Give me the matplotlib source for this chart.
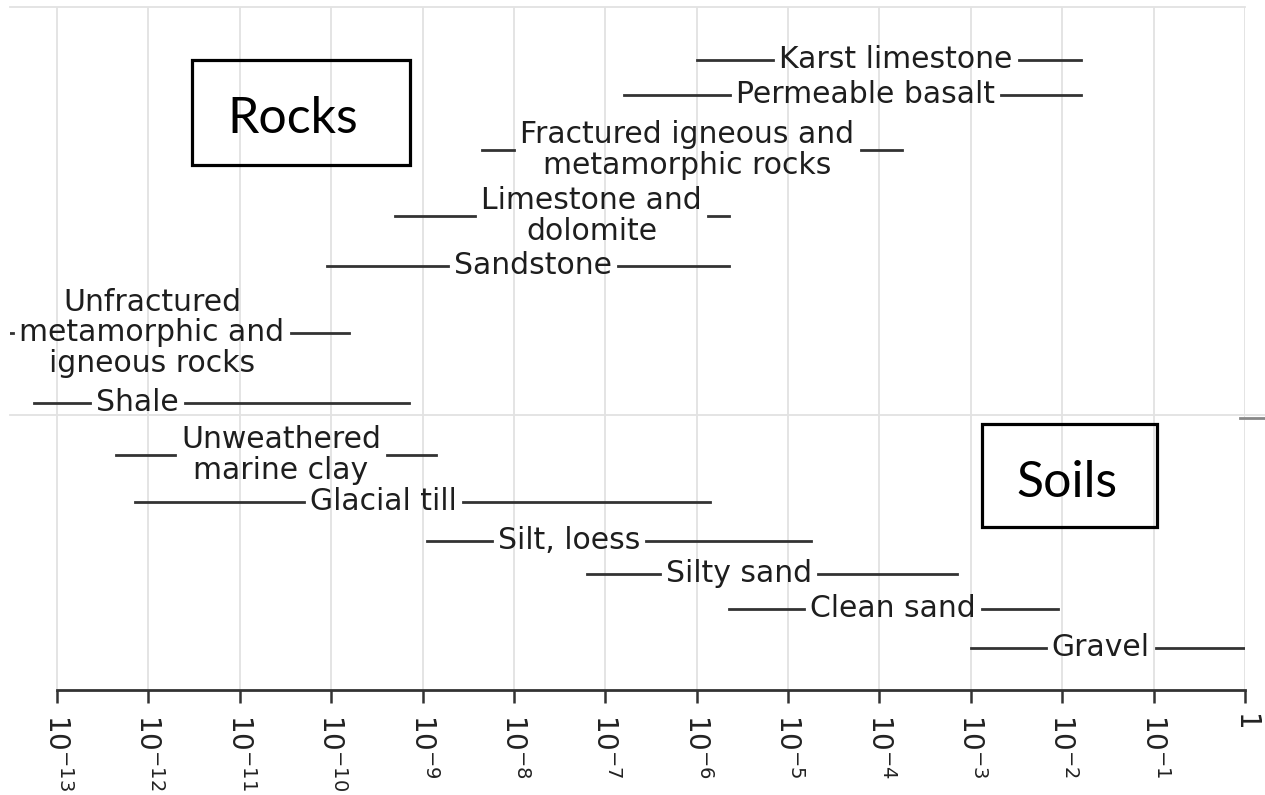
import numpy as np
import matplotlib.pyplot as plt
from matplotlib.patches import Rectangle
from matplotlib.lines import Line2D

# hydraulic conductivity ranges, log10 of the value
materials = ["Karst limestone", "Permeable basalt",
             "Fractured igneous and\nmetamorphic rocks",
             "Limestone and\ndolomite", "Sandstone",
             "Unfractured\nmetamorphic and\nigneous rocks",
             "Shale", "Unweathered\nmarine clay", "Glacial till",
             "Silt, loess", "Silty sand", "Clean sand", "Gravel"]
log_low = [-6.0, -6.8, -8.35, -9.3, -10.05, -13.6, -13.25,
           -12.35, -12.15, -8.95, -7.2, -5.65, -3.0]
log_high = [-1.8, -1.8, -3.75, -5.65, -5.65, -9.8, -9.15,
            -8.85, -5.85, -4.75, -3.15, -2.05, 0.0]
label_at = [-3.82, -4.15, -6.10, -7.15, -7.79, -11.96, -12.12,
            -10.55, -9.43, -7.40, -5.54, -3.85, -1.58]
rows = [60, 95, 150, 216, 266, 333, 403, 455, 502, 541, 574, 609, 648]

tick_exp = list(range(-13, 1))
tick_labels = ["$10^{%d}$" % e for e in tick_exp[:-1]] + ["1"]

W, H = 1265, 795
fig = plt.figure(figsize=(W / 100, H / 100), dpi=100)
ax = fig.add_axes([10 / W, 1 - 690 / H, 1235 / W, 683 / H])
ax.set_xscale("log")
ax.set_xlim(10 ** (-13 - 47 / 91.4), 1)
ax.set_ylim(690, 7)
ax.set_yticks([])
ax.set_axisbelow(True)
ax.grid(axis="x", color="#e2e2e2", lw=1.3)

for s in ["left", "right"]:
    ax.spines[s].set_visible(False)
ax.spines["top"].set_color("#e2e2e2")
ax.spines["top"].set_linewidth(1.3)
ax.spines["bottom"].set_bounds(1e-13, 1)
ax.spines["bottom"].set_color("#333333")
ax.spines["bottom"].set_linewidth(2)

ax.set_xticks([10.0 ** e for e in tick_exp])
ax.set_xticklabels(tick_labels, rotation=-90, fontsize=20, color="#222222")
ax.xaxis.set_minor_locator(plt.NullLocator())
ax.tick_params(axis="x", direction="out", length=9, width=1.8,
               color="#333333", pad=8)

# middle divider line between rocks and soils
ax.axhline(415, xmin=0, xmax=1 + 20 / 1235, color="#e2e2e2", lw=1.3,
           clip_on=False, zorder=0)
fig.add_artist(Line2D([1240 / W, 1265 / W], [1 - 418 / H, 1 - 418 / H],
                      color="#888888", lw=2))

texts = []
for name, xc, y in zip(materials, label_at, rows):
    t = ax.text(10 ** xc, y, name, ha="center", va="center", fontsize=21.5,
                color="#1e1e1e", linespacing=1.05)
    texts.append(t)

fig.canvas.draw()
r = fig.canvas.get_renderer()
inv = ax.transData.inverted()
pad = 6
for t, lo, hi, y in zip(texts, log_low, log_high, rows):
    bb = t.get_window_extent(r)
    g0 = inv.transform((bb.x0 - pad, bb.y0))[0]
    g1 = inv.transform((bb.x1 + pad, bb.y0))[0]
    ax.plot([10 ** lo, g0], [y, y], color="#333333", lw=2)
    ax.plot([g1, 10 ** hi], [y, y], color="#333333", lw=2)

# Rocks / Soils boxes
for (x0, y0, x1, y1), word, xc, base in [((192, 60, 410, 165), "Rocks", 293, 133),
                                          ((982, 424, 1157, 527), "Soils", 1067, 497)]:
    fig.add_artist(Rectangle((x0 / W, 1 - y1 / H), (x1 - x0) / W, (y1 - y0) / H,
                             fill=False, ec="black", lw=2.3))
    fig.text(xc / W, 1 - base / H, word, ha="center", va="baseline",
             fontsize=36, family="Lato", color="black")

fig.savefig("out.png", dpi=100)
